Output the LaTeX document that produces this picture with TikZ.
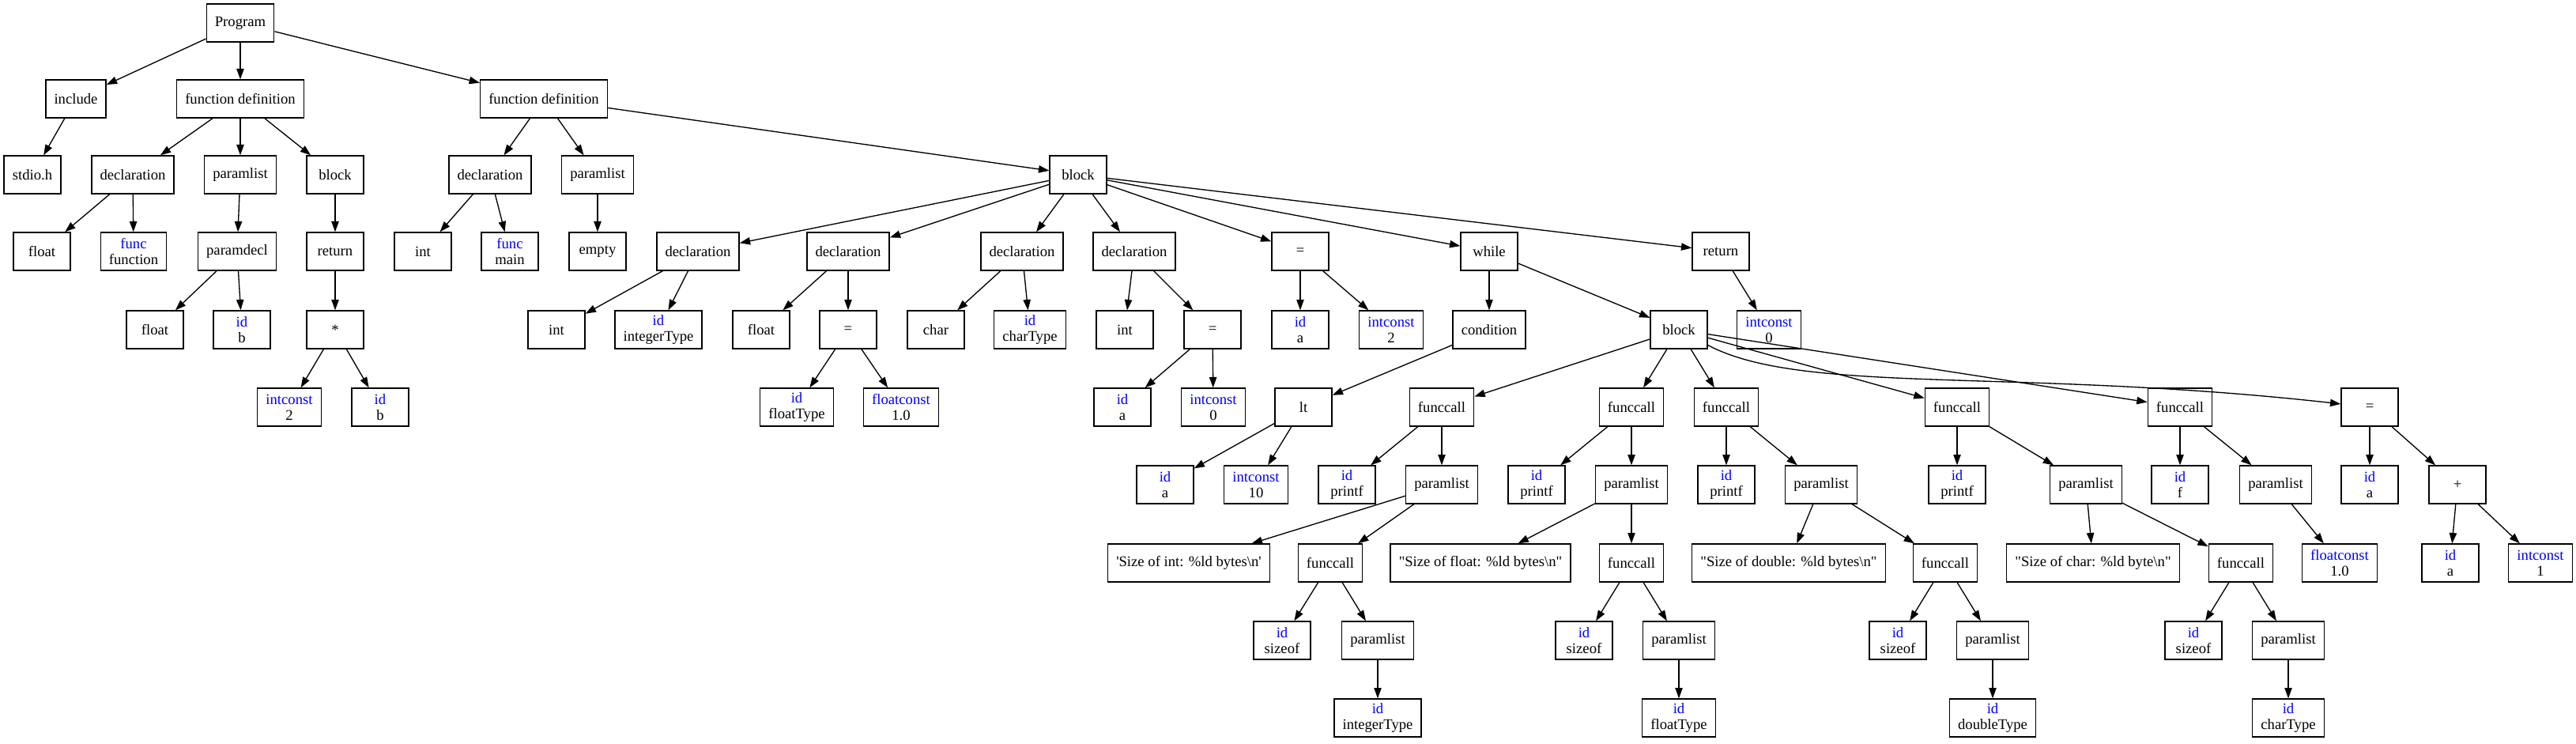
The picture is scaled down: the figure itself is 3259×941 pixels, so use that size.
\documentclass[tikz,border=0pt]{standalone}
\usepackage{fontspec}
\setmainfont{Liberation Serif}
\newfontfamily\strfont{Liberation Serif}
\usetikzlibrary{arrows.meta}
\newcommand{\astleaf}[2]{\textcolor{blue}{#1}\\#2}

\begin{document}
\begin{tikzpicture}[x=0.75pt, y=-0.75pt, line width=1pt,
    >={Triangle[length=10pt,width=7pt]},
    ast/.style={draw, rectangle, minimum width=54pt, minimum height=36pt,
      inner xsep=8pt, inner ysep=4pt, align=center,
      font=\fontsize{14}{15}\selectfont}]
\useasboundingbox (0,0) rectangle (3259,941);

% rank 0 and 1
\node[ast] (prog) at (304,29) {Program};
\node[ast] (inc) at (96,125) {include};
\node[ast] (fdA) at (304,125) {function definition};
\node[ast] (fdB) at (688,125) {function definition};

% rank 2
\node[ast] (stdio) at (41,221) {stdio.h};
\node[ast] (declA) at (168,221) {declaration};
\node[ast] (plA) at (304,221) {paramlist};
\node[ast] (blkA) at (424,221) {block};
\node[ast] (declB) at (620,221) {declaration};
\node[ast] (plB) at (756,221) {paramlist};
\node[ast] (blkB) at (1364,221) {block};

% rank 3
\node[ast] (floatA) at (53,318) {float};
\node[ast] (funcA) at (169,318) {\astleaf{func}{function}};
\node[ast] (pdecl) at (300,318) {paramdecl};
\node[ast] (retA) at (424,318) {return};
\node[ast] (intB) at (535,318) {int};
\node[ast] (funcB) at (645,318) {\astleaf{func}{main}};
\node[ast] (empty) at (756,318) {empty};
\node[ast] (declC) at (883,318) {declaration};
\node[ast] (declD) at (1073,318) {declaration};
\node[ast] (declE) at (1293,318) {declaration};
\node[ast] (declF) at (1435,318) {declaration};
\node[ast] (asgA) at (1645,318) {=};
\node[ast] (whl) at (1884,318) {while};
\node[ast] (retB) at (2177,318) {return};

% rank 4
\node[ast] (floatB) at (196,417) {float};
\node[ast] (idB) at (306,417) {\astleaf{id}{b}};
\node[ast] (mul) at (424,417) {*};
\node[ast] (intC) at (704,417) {int};
\node[ast] (idIT) at (833,417) {\astleaf{id}{integerType}};
\node[ast] (floatC) at (963,417) {float};
\node[ast] (asgB) at (1073,417) {=};
\node[ast] (charA) at (1184,417) {char};
\node[ast] (idCT) at (1303,417) {\astleaf{id}{charType}};
\node[ast] (intD) at (1423,417) {int};
\node[ast] (asgC) at (1534,417) {=};
\node[ast] (idA1) at (1645,417) {\astleaf{id}{a}};
\node[ast] (icTwo) at (1760,417) {\astleaf{intconst}{2}};
\node[ast] (cond) at (1884,417) {condition};
\node[ast] (blkC) at (2124,417) {block};
\node[ast] (icZero) at (2238,417) {\astleaf{intconst}{0}};

% rank 5
\node[ast] (icTwoB) at (366,515) {\astleaf{intconst}{2}};
\node[ast] (idB2) at (481,515) {\astleaf{id}{b}};
\node[ast] (idFT) at (1008,515) {\astleaf{id}{floatType}};
\node[ast] (fcOne) at (1140,515) {\astleaf{floatconst}{1.0}};
\node[ast] (idA2) at (1420,515) {\astleaf{id}{a}};
\node[ast] (icZeroB) at (1535,515) {\astleaf{intconst}{0}};
\node[ast] (lt) at (1649,515) {lt};
\node[ast] (callA) at (1824,515) {funccall};
\node[ast] (callB) at (2064,515) {funccall};
\node[ast] (callC) at (2184,515) {funccall};
\node[ast] (callD) at (2476,515) {funccall};
\node[ast] (callE) at (2758,515) {funccall};
\node[ast] (asgD) at (2998,515) {=};

% rank 6
\node[ast] (idA3) at (1474,613) {\astleaf{id}{a}};
\node[ast] (icTen) at (1589,613) {\astleaf{intconst}{10}};
\node[ast] (prA) at (1704,613) {\astleaf{id}{printf}};
\node[ast] (plC) at (1824,613) {paramlist};
\node[ast] (prB) at (1944,613) {\astleaf{id}{printf}};
\node[ast] (plD) at (2064,613) {paramlist};
\node[ast] (prC) at (2184,613) {\astleaf{id}{printf}};
\node[ast] (plE) at (2304,613) {paramlist};
\node[ast] (prD) at (2476,613) {\astleaf{id}{printf}};
\node[ast] (plF) at (2639,613) {paramlist};
\node[ast] (idF) at (2758,613) {\astleaf{id}{f}};
\node[ast] (plG) at (2879,613) {paramlist};
\node[ast] (idA4) at (2998,613) {\astleaf{id}{a}};
\node[ast] (plus) at (3109,613) {+};

% rank 7
\node[ast] (strA) at (1504,712) {\strfont 'Size of int: \%ld bytes\textbackslash n'};
\node[ast] (callF) at (1683,712) {funccall};
\node[ast] (strB) at (1873,712) {\strfont "Size of float: \%ld bytes\textbackslash n"};
\node[ast] (callG) at (2064,712) {funccall};
\node[ast] (strC) at (2263,712) {\strfont "Size of double: \%ld bytes\textbackslash n"};
\node[ast] (callH) at (2461,712) {funccall};
\node[ast] (strD) at (2648,712) {\strfont "Size of char: \%ld byte\textbackslash n"};
\node[ast] (callI) at (2835,712) {funccall};
\node[ast] (fcOneB) at (2960,712) {\astleaf{floatconst}{1.0}};
\node[ast] (idA5) at (3100,712) {\astleaf{id}{a}};
\node[ast] (icOne) at (3214,712) {\astleaf{intconst}{1}};

% rank 8
\node[ast] (szA) at (1622,810) {\astleaf{id}{sizeof}};
\node[ast] (plH) at (1743,810) {paramlist};
\node[ast] (szB) at (2004,810) {\astleaf{id}{sizeof}};
\node[ast] (plI) at (2124,810) {paramlist};
\node[ast] (szC) at (2401,810) {\astleaf{id}{sizeof}};
\node[ast] (plJ) at (2521,810) {paramlist};
\node[ast] (szD) at (2775,810) {\astleaf{id}{sizeof}};
\node[ast] (plK) at (2895,810) {paramlist};

% rank 9
\node[ast] (idIT2) at (1743,908) {\astleaf{id}{integerType}};
\node[ast] (idFT2) at (2124,908) {\astleaf{id}{floatType}};
\node[ast] (idDT) at (2521,908) {\astleaf{id}{doubleType}};
\node[ast] (idCT2) at (2895,908) {\astleaf{id}{charType}};

% edges
\draw[->] (prog) -- (inc);
\draw[->] (prog) -- (fdA);
\draw[->] (prog) -- (fdB);
\draw[->] (inc) -- (stdio);
\draw[->] (fdA) -- (declA);
\draw[->] (fdA) -- (plA);
\draw[->] (fdA) -- (blkA);
\draw[->] (declA) -- (floatA);
\draw[->] (declA) -- (funcA);
\draw[->] (plA) -- (pdecl);
\draw[->] (pdecl) -- (floatB);
\draw[->] (pdecl) -- (idB);
\draw[->] (blkA) -- (retA);
\draw[->] (retA) -- (mul);
\draw[->] (mul) -- (icTwoB);
\draw[->] (mul) -- (idB2);
\draw[->] (fdB) -- (declB);
\draw[->] (fdB) -- (plB);
\draw[->] (fdB) -- (blkB);
\draw[->] (declB) -- (intB);
\draw[->] (declB) -- (funcB);
\draw[->] (plB) -- (empty);
\draw[->] (blkB) -- (declC);
\draw[->] (blkB) -- (declD);
\draw[->] (blkB) -- (declE);
\draw[->] (blkB) -- (declF);
\draw[->] (blkB) -- (asgA);
\draw[->] (blkB) -- (whl);
\draw[->] (blkB) -- (retB);
\draw[->] (declC) -- (intC);
\draw[->] (declC) -- (idIT);
\draw[->] (declD) -- (floatC);
\draw[->] (declD) -- (asgB);
\draw[->] (asgB) -- (idFT);
\draw[->] (asgB) -- (fcOne);
\draw[->] (declE) -- (charA);
\draw[->] (declE) -- (idCT);
\draw[->] (declF) -- (intD);
\draw[->] (declF) -- (asgC);
\draw[->] (asgC) -- (idA2);
\draw[->] (asgC) -- (icZeroB);
\draw[->] (asgA) -- (idA1);
\draw[->] (asgA) -- (icTwo);
\draw[->] (whl) -- (cond);
\draw[->] (whl) -- (blkC);
\draw[->] (cond) -- (lt);
\draw[->] (lt) -- (idA3);
\draw[->] (lt) -- (icTen);
\draw[->] (retB) -- (icZero);
\draw[->] (blkC) -- (callA);
\draw[->] (blkC) -- (callB);
\draw[->] (blkC) -- (callC);
\draw[->] (blkC) -- (callD);
\draw[->] (blkC) -- (callE);
\draw[->] (blkC) .. controls (2280,500) and (2550,465) .. (asgD);
\draw[->] (callA) -- (prA);
\draw[->] (callA) -- (plC);
\draw[->] (plC) -- (strA);
\draw[->] (plC) -- (callF);
\draw[->] (callF) -- (szA);
\draw[->] (callF) -- (plH);
\draw[->] (plH) -- (idIT2);
\draw[->] (callB) -- (prB);
\draw[->] (callB) -- (plD);
\draw[->] (plD) -- (strB);
\draw[->] (plD) -- (callG);
\draw[->] (callG) -- (szB);
\draw[->] (callG) -- (plI);
\draw[->] (plI) -- (idFT2);
\draw[->] (callC) -- (prC);
\draw[->] (callC) -- (plE);
\draw[->] (plE) -- (strC);
\draw[->] (plE) -- (callH);
\draw[->] (callH) -- (szC);
\draw[->] (callH) -- (plJ);
\draw[->] (plJ) -- (idDT);
\draw[->] (callD) -- (prD);
\draw[->] (callD) -- (plF);
\draw[->] (plF) -- (strD);
\draw[->] (plF) -- (callI);
\draw[->] (callI) -- (szD);
\draw[->] (callI) -- (plK);
\draw[->] (plK) -- (idCT2);
\draw[->] (callE) -- (idF);
\draw[->] (callE) -- (plG);
\draw[->] (plG) -- (fcOneB);
\draw[->] (asgD) -- (idA4);
\draw[->] (asgD) -- (plus);
\draw[->] (plus) -- (idA5);
\draw[->] (plus) -- (icOne);
\end{tikzpicture}
\end{document}
